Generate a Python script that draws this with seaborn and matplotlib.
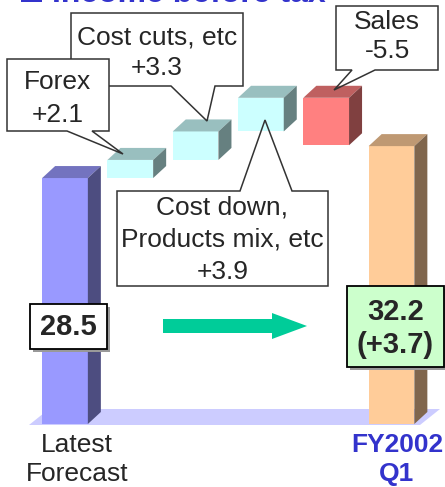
import numpy as np
import pandas as pd
import matplotlib
matplotlib.use('Agg')
import matplotlib.pyplot as plt
import matplotlib.colors as mcolors
from matplotlib.patches import Polygon, Rectangle, FancyArrow
import seaborn as sns

# ── Data ───────────────────────────────────────────────────────────────────────
steps = ['Latest\nForecast', 'Forex', 'Cost cuts, etc',
         'Cost down,\nProducts mix, etc', 'Sales', 'FY2002\nQ1']
start_value = 28.5
deltas = [2.1, 3.3, 3.9, -5.5]
delta_labels = ['+2.1', '+3.3', '+3.9', '-5.5']
end_value = 32.2
end_change = '+3.7'
front_colors = ['#9999FF', '#CCFFFF', '#CCFFFF', '#CCFFFF', '#FF8080', '#FFCC99']

# waterfall bottoms / tops
running = start_value + np.cumsum([0] + deltas)
bottoms = [0.0] + list(np.minimum(running[:-1], running[1:])) + [0.0]
tops = [start_value] + list(np.maximum(running[:-1], running[1:])) + [end_value]

# ── Layout helpers (reference pixels -> data) ─────────────────────────────────
W, H = 445, 487
X0, SX = 65.0, 65.3      # pixel x of first bar centre, pixels per category
Y0, SY = 424.0, 8.63     # pixel y of zero, pixels per unit
DX, DY = 13 / SX, 12 / SY  # 3D depth


def P(x, y):
    return ((x - X0) / SX, (Y0 - y) / SY)


sns.set_style('white')
plt.rcParams['font.family'] = ['Liberation Sans', 'DejaVu Sans']

fig = plt.figure(figsize=(W / 100, H / 100), dpi=100)
ax = fig.add_axes([0, 0, 1, 1])

df = pd.DataFrame({'step': steps, 'top': tops})
sns.barplot(data=df, x='step', y='top', hue='step', palette=front_colors,
            width=0.7, saturation=1, legend=False, linewidth=0, ax=ax, zorder=2)

bars = list(ax.patches)
for patch, b, t, col in zip(bars, bottoms, tops, front_colors):
    patch.set_y(b)
    patch.set_height(t - b)
    x0 = patch.get_x()
    x1 = x0 + patch.get_width()
    c = np.array(mcolors.to_rgb(col))
    ax.add_patch(Polygon([(x0, t), (x1, t), (x1 + DX, t + DY), (x0 + DX, t + DY)],
                         closed=True, fc=c * 0.75, lw=0, zorder=2))
    ax.add_patch(Polygon([(x1, b), (x1 + DX, b + DY), (x1 + DX, t + DY), (x1, t)],
                         closed=True, fc=c * 0.5, lw=0, zorder=2))

# floor
fl = [P(29, 425), P(420, 425), P(440, 409), P(49, 409)]
ax.add_patch(Polygon(fl, closed=True, fc='#CCCCFF', lw=0, zorder=1))

ax.set_xlim((0 - X0) / SX, (W - X0) / SX)
ax.set_ylim((Y0 - H) / SY, Y0 / SY)
ax.axis('off')


def txt(x, y, s, **kw):
    kw.setdefault('fontsize', 19)
    ax.text(*P(x, y), s, ha='center', va='center', **kw)


# ── Callouts ───────────────────────────────────────────────────────────────────
def callout(box, base, tip, lines, ys, z, wedge='bottom'):
    x0, y0, x1, y1 = box
    bx0, bx1 = base
    if wedge == 'bottom':
        pts = [(x0, y0), (x1, y0), (x1, y1), (bx1, y1), tip, (bx0, y1), (x0, y1)]
    else:
        pts = [(x0, y0), (bx0, y0), tip, (bx1, y0), (x1, y0), (x1, y1), (x0, y1)]
    ax.add_patch(Polygon([P(*p) for p in [(x0, y0), (x1, y0), (x1, y1), (x0, y1)]],
                         closed=True, fc='white', lw=0, zorder=z))
    ax.add_patch(Polygon([P(*p) for p in pts], closed=True, fill=False,
                         ec='#333333', lw=1.1, zorder=z + 0.01))
    for s, y in zip(lines, ys):
        ax.text(*P((x0 + x1) / 2, y), s, ha='center', va='center',
                fontsize=19, zorder=z + 0.02)


callout((71, 13, 243, 86), (171, 215), (207, 121),
        ['Cost cuts, etc', delta_labels[1]], [37, 68], 5)
callout((7, 59, 109, 131), (67, 92), (123, 154),
        ['Forex', delta_labels[0]], [82, 115], 6)
callout((336, 6, 438, 70), (352, 375), (334, 90),
        ['Sales', delta_labels[3]], [22, 51], 5)
callout((117, 191, 328, 286), (240, 292), (265, 120),
        ['Cost down,', 'Products mix, etc', delta_labels[2]], [207, 240, 272], 5,
        wedge='top')

# ── Value boxes ────────────────────────────────────────────────────────────────
def value_box(box, fc, lines, ys):
    x0, y0, x1, y1 = box
    ax.add_patch(Rectangle(P(x0 + 3, y1 + 3), (x1 - x0) / SX, (y1 - y0) / SY,
                           fc='#999999', lw=0, zorder=7))
    ax.add_patch(Rectangle(P(x0, y1), (x1 - x0) / SX, (y1 - y0) / SY,
                           fc=fc, ec='black', lw=1.3, zorder=8))
    for s, y in zip(lines, ys):
        ax.text(*P((x0 + x1) / 2, y), s, ha='center', va='center',
                fontsize=21, fontweight='bold', zorder=9)


value_box((30, 304, 107, 349), 'white', [f'{start_value}'], [327])
value_box((347, 286, 444, 367), '#CCFFCC', [f'{end_value}', f'({end_change})'], [312, 345])

# green arrow
ax0, ay = P(163, 326)
ax1, _ = P(307, 326)
ax.add_patch(FancyArrow(ax0, ay, ax1 - ax0, 0, width=14 / SY, head_width=26 / SY,
                        head_length=35 / SX, length_includes_head=True,
                        fc='#00CC99', lw=0, zorder=4))

# x labels
txt(77, 445, 'Latest')
txt(77, 474, 'Forecast')
txt(397, 445, 'FY2002', fontweight='bold', color='#3333CC')
txt(397, 474, 'Q1', fontweight='bold', color='#3333CC')

# title (cut off at top of slide, as in the original)
ax.add_patch(Rectangle(P(21, 2), 21 / SX, 25 / SY, fc='#3333CC', lw=0, zorder=5))
ax.text(*P(52, 2), 'Income before tax', ha='left', va='baseline',
        fontsize=23, fontweight='bold', color='#3333CC', zorder=5)

plt.savefig('out.png', dpi=100)
plt.close()
